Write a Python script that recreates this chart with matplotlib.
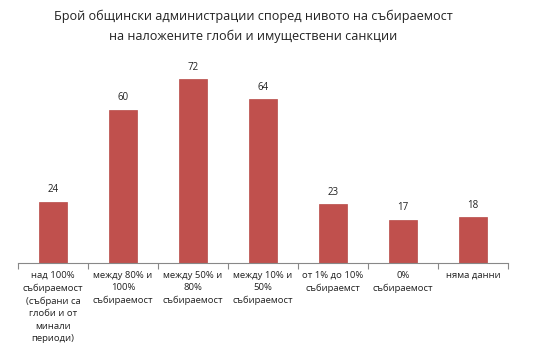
import numpy as np
import matplotlib.pyplot as plt

plt.rcParams['font.family'] = ['Open Sans', 'DejaVu Sans']

# Данни
categories = [
    "над 100%\nсъбираемост\n(събрани са\nглоби и от\nминали\nпериоди)",
    "между 80% и\n100%\nсъбираемост",
    "между 50% и\n80%\nсъбираемост",
    "между 10% и\n50%\nсъбираемост",
    "от 1% до 10%\nсъбираемст",
    "0%\nсъбираемост",
    "няма данни",
]
values = [24, 60, 72, 64, 23, 17, 18]

fig = plt.figure(figsize=(5.45, 3.55), dpi=100)
ax = fig.add_axes([0.033, 0.259, 0.899, 0.576])

x = np.arange(len(values))
ax.bar(x, values, width=0.4, color='#C0504D', edgecolor='#B84A47', linewidth=0.5)

for xi, v in zip(x, values):
    ax.text(xi, v + 2.5, str(v), ha='center', va='bottom', fontsize=7, color='#222222')

ax.set_xlim(-0.5, len(values) - 0.5)
ax.set_ylim(0, 80)
ax.set_yticks([])
for s in ['left', 'right', 'top']:
    ax.spines[s].set_visible(False)
ax.spines['bottom'].set_color('#888888')
ax.spines['bottom'].set_linewidth(0.8)

# тикчета на границите между категориите
ax.set_xticks(np.arange(-0.5, len(values)), minor=False)
ax.set_xticklabels([])
ax.tick_params(axis='x', length=4, color='#888888', width=0.8)
for xi, lab in zip(x, categories):
    ax.text(xi, -3.0, lab, ha='center', va='top', fontsize=6.8, color='#222222',
            linespacing=1.5)

fig.text(0.465, 0.972, "Брой общински администрации според нивото на събираемост\nна наложените глоби и имуществени санкции",
         ha='center', va='top', fontsize=9.1, color='#222222', linespacing=1.6)

fig.savefig("out.png", dpi=100)
